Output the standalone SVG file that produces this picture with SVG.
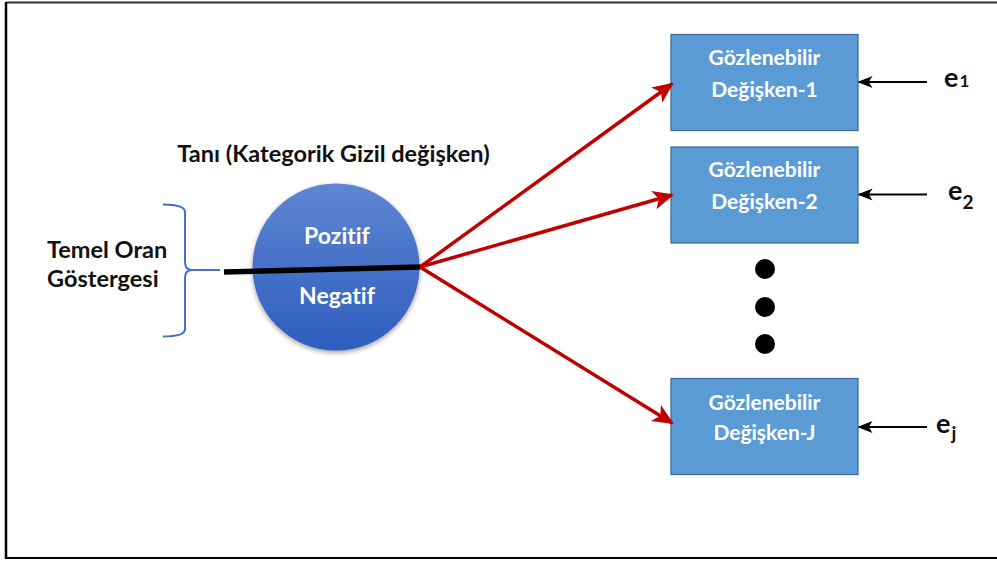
<svg xmlns="http://www.w3.org/2000/svg" width="997" height="563" viewBox="0 0 997 563">
  <style>
    .lbl { font-family: "Lato", "Open Sans", "Liberation Sans", sans-serif; font-weight: bold; font-variant-ligatures: none; }
    .dark { fill: #111111; }
    .light { fill: #ffffff; }
    .box { fill: #5B9BD5; stroke: #41719C; stroke-width: 1.3; }
    .red { stroke: #C00000; stroke-width: 3.5; fill: none; }
    .blk { stroke: #000000; stroke-width: 2; fill: none; }
  </style>
  <defs>
    <linearGradient id="circFill" x1="0" y1="0" x2="0" y2="1">
      <stop offset="0" stop-color="#5E86D2"/>
      <stop offset="1" stop-color="#2E5DBE"/>
    </linearGradient>
    <filter id="soft" x="-20%" y="-20%" width="140%" height="140%">
      <feGaussianBlur in="SourceAlpha" stdDeviation="2.5"/>
      <feOffset dx="0" dy="2" result="b"/>
      <feComponentTransfer><feFuncA type="linear" slope="0.4"/></feComponentTransfer>
      <feMerge><feMergeNode/><feMergeNode in="SourceGraphic"/></feMerge>
    </filter>
    <marker id="redHead" viewBox="0 0 10 10" refX="9" refY="5" markerWidth="6" markerHeight="6" markerUnits="strokeWidth" orient="auto">
      <path d="M0,0.5 L10,5 L0,9.5 L2.5,5 Z" fill="#C00000"/>
    </marker>
    <marker id="blkHead" viewBox="0 0 10 10" refX="9" refY="5" markerWidth="7.5" markerHeight="7.5" markerUnits="strokeWidth" orient="auto">
      <path d="M0,1 L10,5 L0,9 L2.5,5 Z" fill="#000000"/>
    </marker>
  </defs>

  <rect width="997" height="563" fill="#ffffff"/>

  <!-- frame -->
  <g id="frame" stroke="#000000" fill="none">
    <line x1="6" y1="2.5" x2="997" y2="2.5" stroke-width="2" stroke="#333333"/>
    <line x1="6" y1="2" x2="6" y2="559" stroke-width="2.5"/>
    <line x1="6" y1="558" x2="997" y2="558" stroke-width="2"/>
  </g>

  <!-- title -->
  <text class="lbl dark" x="333.5" y="162" font-size="23.5" text-anchor="middle">Tanı (Kategorik Gizil değişken)</text>

  <!-- base rate indicator -->
  <g id="base-rate">
    <text class="lbl dark" x="47" y="258" font-size="23.5">Temel Oran</text>
    <text class="lbl dark" x="47" y="287" font-size="23.5">Göstergesi</text>
    <path d="M163,204.5 Q185,204.5 185,212 L185,262 Q185,270 192,270 L220,270 M192,270 Q185,270 185,278 L185,329 Q185,336.5 163,336.5" fill="none" stroke="#4472C4" stroke-width="2"/>
  </g>

  <!-- latent class node -->
  <g id="latent">
    <circle cx="336" cy="267" r="83.5" fill="url(#circFill)" filter="url(#soft)"/>
    <text class="lbl light" x="337" y="244" font-size="23" text-anchor="middle">Pozitif</text>
    <text class="lbl light" x="337" y="304" font-size="23" text-anchor="middle">Negatif</text>
  </g>

  <!-- observed indicators -->
  <g id="obs1">
    <rect class="box" x="671" y="34.5" width="187" height="96"/>
    <text class="lbl light" x="764.5" y="65" font-size="21" text-anchor="middle">Gözlenebilir</text>
    <text class="lbl light" x="764.5" y="97" font-size="21" text-anchor="middle">Değişken-1</text>
  </g>
  <g id="obs2">
    <rect class="box" x="671" y="147" width="187" height="96"/>
    <text class="lbl light" x="764.5" y="177" font-size="21" text-anchor="middle">Gözlenebilir</text>
    <text class="lbl light" x="764.5" y="209" font-size="21" text-anchor="middle">Değişken-2</text>
  </g>
  <g id="obsJ">
    <rect class="box" x="671" y="378.5" width="187" height="96"/>
    <text class="lbl light" x="764.5" y="410" font-size="21" text-anchor="middle">Gözlenebilir</text>
    <text class="lbl light" x="764.5" y="440" font-size="21" text-anchor="middle">Değişken-J</text>
  </g>

  <!-- ellipsis dots -->
  <g id="dots" fill="#000000">
    <circle cx="765" cy="269" r="10"/>
    <circle cx="765" cy="307" r="10"/>
    <circle cx="765" cy="344" r="10"/>
  </g>

  <!-- error terms -->
  <g id="err1">
    <text class="lbl dark" x="944" y="87" font-size="27">e<tspan font-size="17" dx="1">1</tspan></text>
  </g>
  <g id="err2">
    <text class="lbl dark" x="948" y="200" font-size="27">e<tspan font-size="19" dy="9">2</tspan></text>
  </g>
  <g id="errJ">
    <text class="lbl dark" x="936" y="433" font-size="27">e<tspan font-size="19" dy="7" dx="1">j</tspan></text>
  </g>

  <!-- connectors -->
  <g id="connectors">
    <line x1="224" y1="272" x2="420" y2="267" stroke="#000000" stroke-width="5.5"/>
    <line class="red" x1="420" y1="267" x2="672" y2="84" marker-end="url(#redHead)"/>
    <line class="red" x1="420" y1="267" x2="672" y2="195" marker-end="url(#redHead)"/>
    <line class="red" x1="420" y1="267" x2="672" y2="423" marker-end="url(#redHead)"/>
    <line class="blk" x1="927" y1="82" x2="859" y2="82" marker-end="url(#blkHead)"/>
    <line class="blk" x1="927" y1="194.5" x2="859" y2="194.5" marker-end="url(#blkHead)"/>
    <line class="blk" x1="927" y1="427" x2="859" y2="427" marker-end="url(#blkHead)"/>
  </g>
</svg>
